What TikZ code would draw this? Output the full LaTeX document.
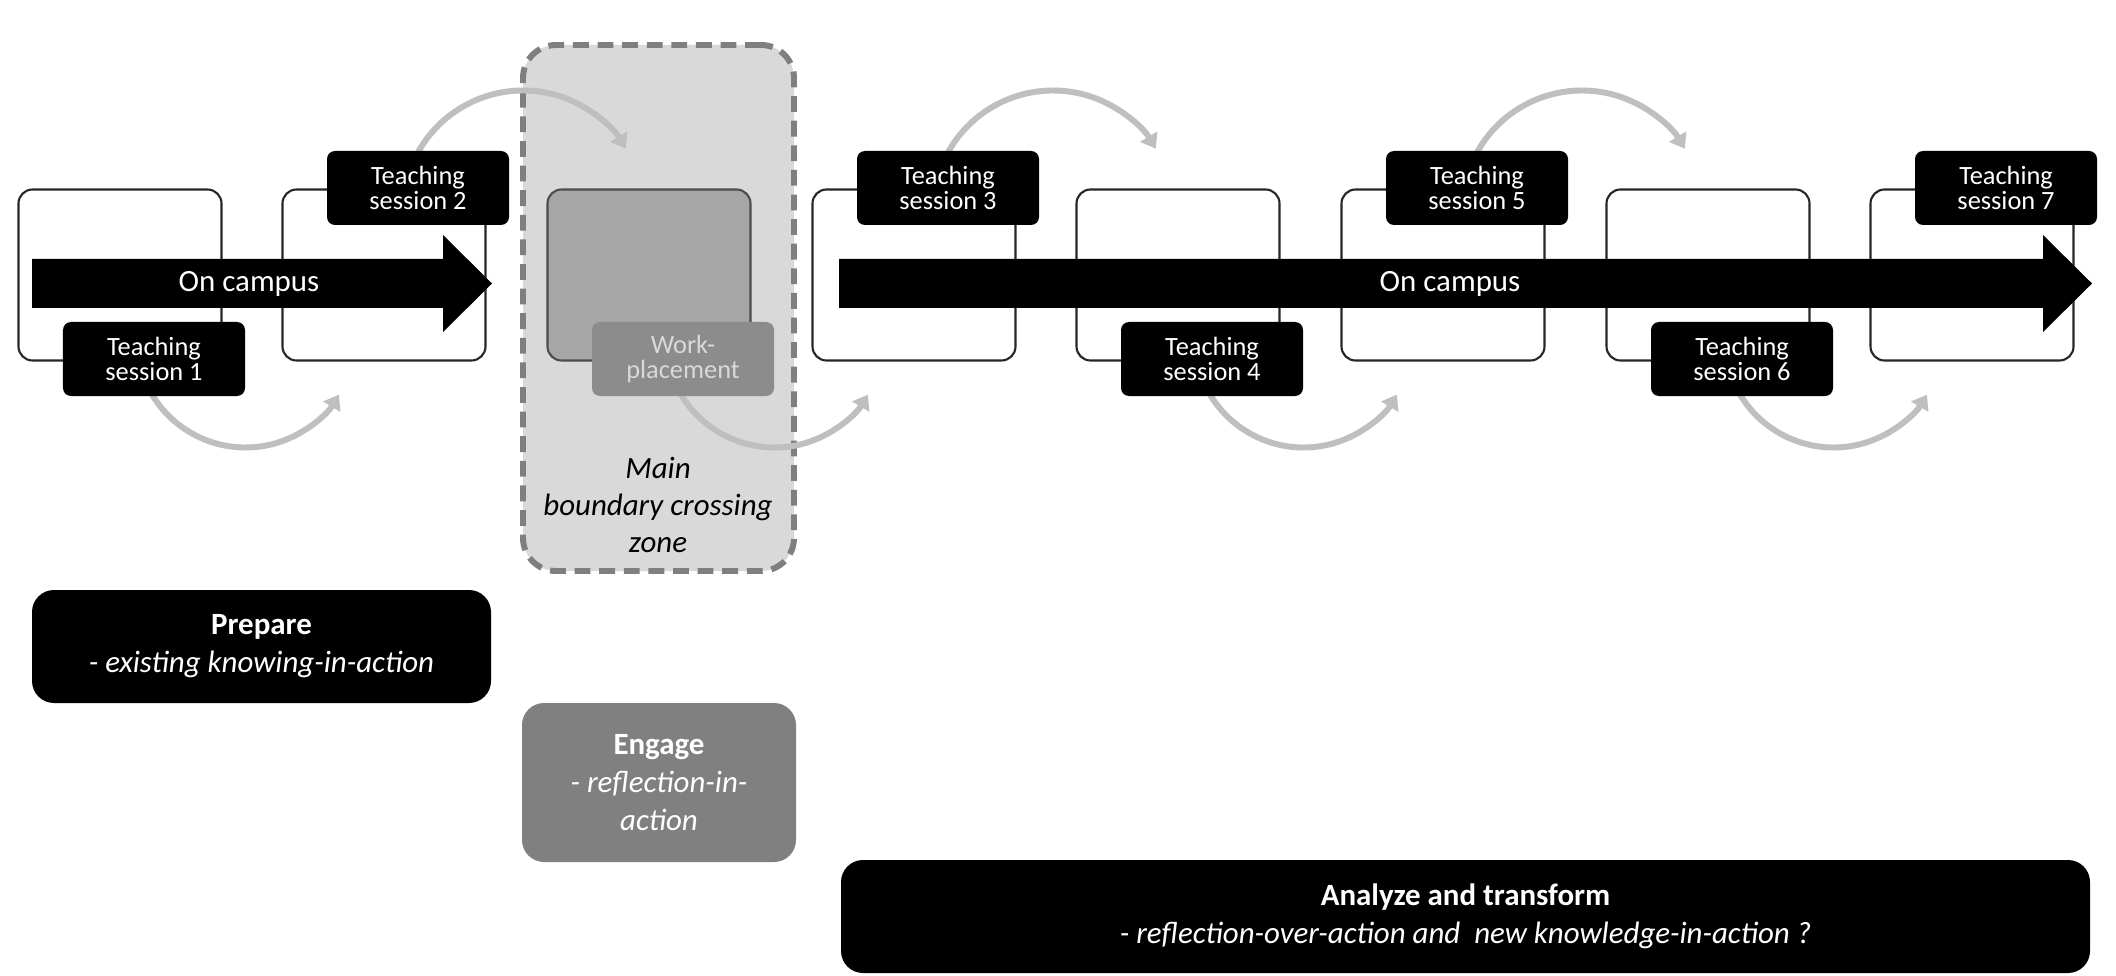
\documentclass[tikz,border=0pt]{standalone}
\usepackage{fontspec}
\setmainfont{Carlito}
\usetikzlibrary{calc,arrows.meta}
\definecolor{arcgray}{RGB}{191,191,193}
\definecolor{zonegray}{RGB}{217,217,217}
\definecolor{dashgray}{RGB}{127,127,127}
\definecolor{wpgray}{RGB}{166,166,166}
\definecolor{wplabgray}{RGB}{140,140,140}

\begin{document}
\begin{tikzpicture}
\tikzstyle{every node}=[inner sep=0pt,align=center,font=\fontsize{7.5}{7.2}\selectfont];
\tikzstyle{box}=[draw=black!85,line width=0.6pt,rounded corners=0.14cm,minimum width=2.03cm,minimum height=1.71cm];
\tikzstyle{tlab}=[fill=black,text=white,rounded corners=0.08cm,minimum width=1.82cm,minimum height=0.74cm];
\tikzstyle{phase}=[text=white,rounded corners=0.22cm,font=\fontsize{8.8}{10.8}\selectfont];
\tikzstyle{loop}=[arcgray,line width=1.7pt,-{Triangle[length=4pt,width=5.5pt]}];
\useasboundingbox (0,0) rectangle (21.16,9.75);

% zone
\node[draw=dashgray,fill=zonegray,line width=1.7pt,dash pattern=on 4.5pt off 2.5pt,rounded corners=0.33cm,minimum width=2.71cm,minimum height=5.26cm](Z) at(6.585,6.67){};

\node[box](B1) at(1.20,7.0){};
\node[box](B2) at(3.84,7.0){};
\node[box,fill=wpgray,draw=black!70](W) at(6.49,7.0){};
\node[box](B3) at(9.14,7.0){};
\node[box](B4) at(11.78,7.0){};
\node[box](B5) at(14.43,7.0){};
\node[box](B6) at(17.08,7.0){};
\node[box](B7) at(19.72,7.0){};

% on campus arrows
\fill (0.32,7.16) -- (4.43,7.16) -- (4.43,7.40) -- (4.92,6.915) -- (4.43,6.43) -- (4.43,6.67) -- (0.32,6.67) -- cycle;
\fill (8.39,7.16) -- (20.43,7.16) -- (20.43,7.40) -- (20.92,6.915) -- (20.43,6.43) -- (20.43,6.67) -- (8.39,6.67) -- cycle;
\node[text=white,font=\fontsize{8.8}{8.8}\selectfont](C1) at(2.49,6.915){On campus};
\node[text=white,font=\fontsize{8.8}{8.8}\selectfont](C2) at(14.50,6.915){On campus};

% loops
\draw[loop] ($(B1)+(1.255,-0.635)+(205:1.09)$) arc[start angle=205,end angle=329,radius=1.09];
\draw[loop] ($(B2)+(1.39,0.645)+(155:1.2)$) arc[start angle=155,end angle=31,radius=1.2];
\draw[loop] ($(W)+(1.255,-0.635)+(205:1.09)$) arc[start angle=205,end angle=329,radius=1.09];
\draw[loop] ($(B3)+(1.39,0.645)+(155:1.2)$) arc[start angle=155,end angle=31,radius=1.2];
\draw[loop] ($(B4)+(1.255,-0.635)+(205:1.09)$) arc[start angle=205,end angle=329,radius=1.09];
\draw[loop] ($(B5)+(1.39,0.645)+(155:1.2)$) arc[start angle=155,end angle=31,radius=1.2];
\draw[loop] ($(B6)+(1.255,-0.635)+(205:1.09)$) arc[start angle=205,end angle=329,radius=1.09];

\node[tlab](T1) at(1.54,6.16){Teaching\\session 1};
\node[tlab](T2) at(4.18,7.87){Teaching\\session 2};
\node[tlab,fill=wplabgray,text=black!15](WL) at(6.83,6.16){Work-\\placement};
\node[tlab](T3) at(9.48,7.87){Teaching\\session 3};
\node[tlab](T4) at(12.12,6.16){Teaching\\session 4};
\node[tlab](T5) at(14.77,7.87){Teaching\\session 5};
\node[tlab](T6) at(17.42,6.16){Teaching\\session 6};
\node[tlab](T7) at(20.06,7.87){Teaching\\session 7};

\node[font=\fontsize{8.8}{10.5}\selectfont\itshape](ZT) at(6.58,4.70){Main\\boundary crossing\\zone};

% phases
\node[phase,fill=black,minimum width=4.59cm,minimum height=1.13cm](P) at(2.615,3.285){\textbf{Prepare}\\\textit{- existing knowing-in-action}};
\node[phase,fill=black!50,minimum width=2.74cm,minimum height=1.59cm](E) at(6.59,1.925){\textbf{Engage}\\\textit{- reflection-in-}\\\textit{action}};
\node[phase,fill=black,minimum width=12.49cm,minimum height=1.13cm](A) at(14.655,0.585){\textbf{Analyze and transform}\\\textit{- reflection-over-action and\ \ new knowledge-in-action ?}};

\end{tikzpicture}
\end{document}
